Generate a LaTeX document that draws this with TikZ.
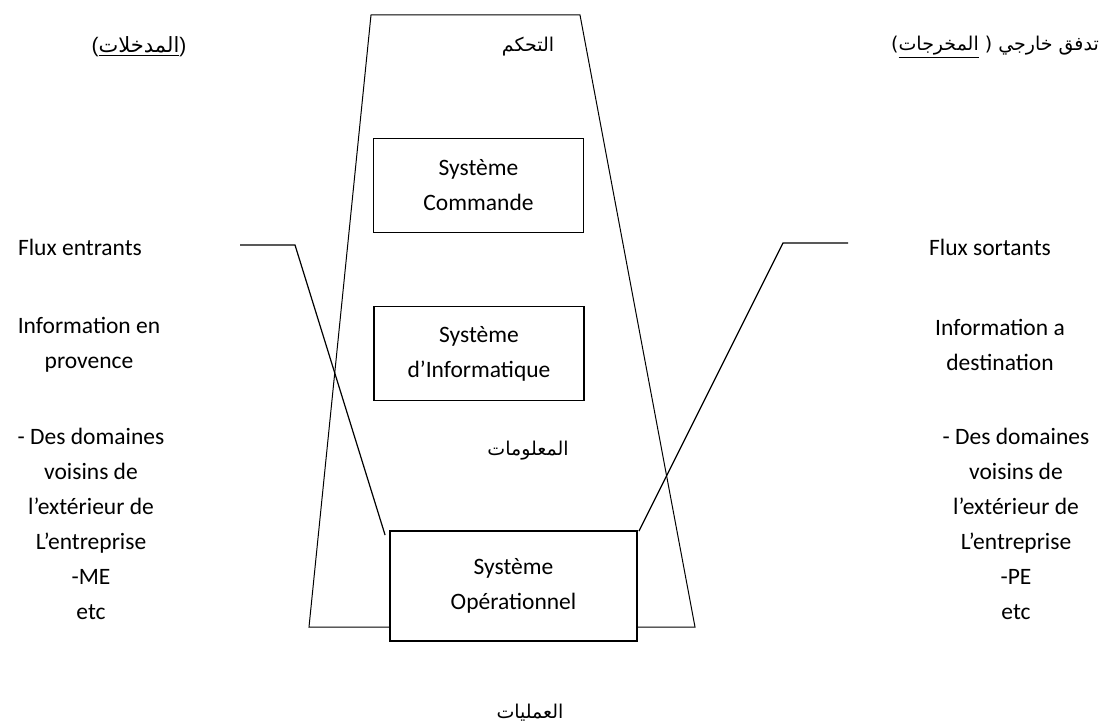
\documentclass[tikz,border=0pt]{standalone}
\usepackage{fontspec}
\setmainfont{Carlito}
\newfontfamily\arabicfont[Script=Arabic]{DejaVu Sans}
\newfontfamily\parenfont{Liberation Sans}
\TeXXeTstate=1
\usetikzlibrary{calc}
\begin{document}
\begin{tikzpicture}[x=1pt,y=-1pt,
  lbl/.style={font=\fontsize{23.5}{35}\selectfont, align=center, inner sep=0pt, anchor=center},
  ar/.style={font=\fontsize{19}{22}\selectfont\arabicfont, inner sep=0pt},
  sysbox/.style={draw, line width=1.1pt, minimum width=210pt, minimum height=94pt, inner sep=0pt},
  opbox/.style={draw, line width=1.8pt, minimum width=247pt, minimum height=110pt, inner sep=0pt},
  edge/.style={line width=1pt}]
\useasboundingbox (0,0) rectangle (1100,727);
% boxes
\node[sysbox, lbl] (b1) at (478.5,185.5) {Système\\Commande};
\node[sysbox, lbl] (b2) at (479,353.5) {Système\\d’Informatique};
\node[opbox, lbl] (b3) at (513.5,586) {Système\\Opérationnel};
% trapezoid
\coordinate (tbl) at (309,627);
\coordinate (ttl) at (371,15);
\coordinate (ttr) at (580,15);
\coordinate (tbr) at (695,627);
\draw[edge] (b3.west |- tbl) -- (tbl) -- (ttl) -- (ttr) -- (tbr) -- (b3.east |- tbr);
% connectors
\coordinate (la) at (240,245);
\coordinate (lb) at (295,245);
\coordinate (lc) at ($(b3.north west)+(-4,5)$);
\draw[edge, line width=1.2pt] (la) -- (lb) -- (lc);
\coordinate (ra) at (848,243);
\coordinate (rb) at (783,243);
\coordinate (rc) at ($(b3.north east)+(1,1)$);
\draw[edge, line width=1.2pt] (ra) -- (rb) -- (rc);
% arabic labels
\node[ar] (tc) at (528,47) {\beginR التحكم\endR};
\node[ar, font=\fontsize{21}{24}\selectfont\arabicfont] (inp) at (139,47) {{\parenfont(}\underline{\beginR المدخلات\endR}{\parenfont)}};
\node[ar, anchor=east] (outp) at (1099,47) {\beginR تدفق خارجي ( \underline{\beginR المخرجات\endR})\endR};
\node[ar] (info) at (528,451) {\beginR المعلومات\endR};
\node[ar] (ops) at (530,713) {\beginR العمليات\endR};
% left column
\node[lbl] (l1) at (80,247) {Flux entrants};
\node[lbl] (l2) at (89,344.5) {Information en\\provence};
\node[lbl] (l3) at (91,524) {- Des domaines\\voisins de\\l’extérieur de\\L’entreprise\\-ME\\etc};
% right column
\node[lbl] (r1) at (990,247) {Flux sortants};
\node[lbl] (r2) at (1000,344.5) {Information a\\destination};
\node[lbl] (r3) at (1016,524) {- Des domaines\\voisins de\\l’extérieur de\\L’entreprise\\-PE\\etc};
\end{tikzpicture}
\end{document}
